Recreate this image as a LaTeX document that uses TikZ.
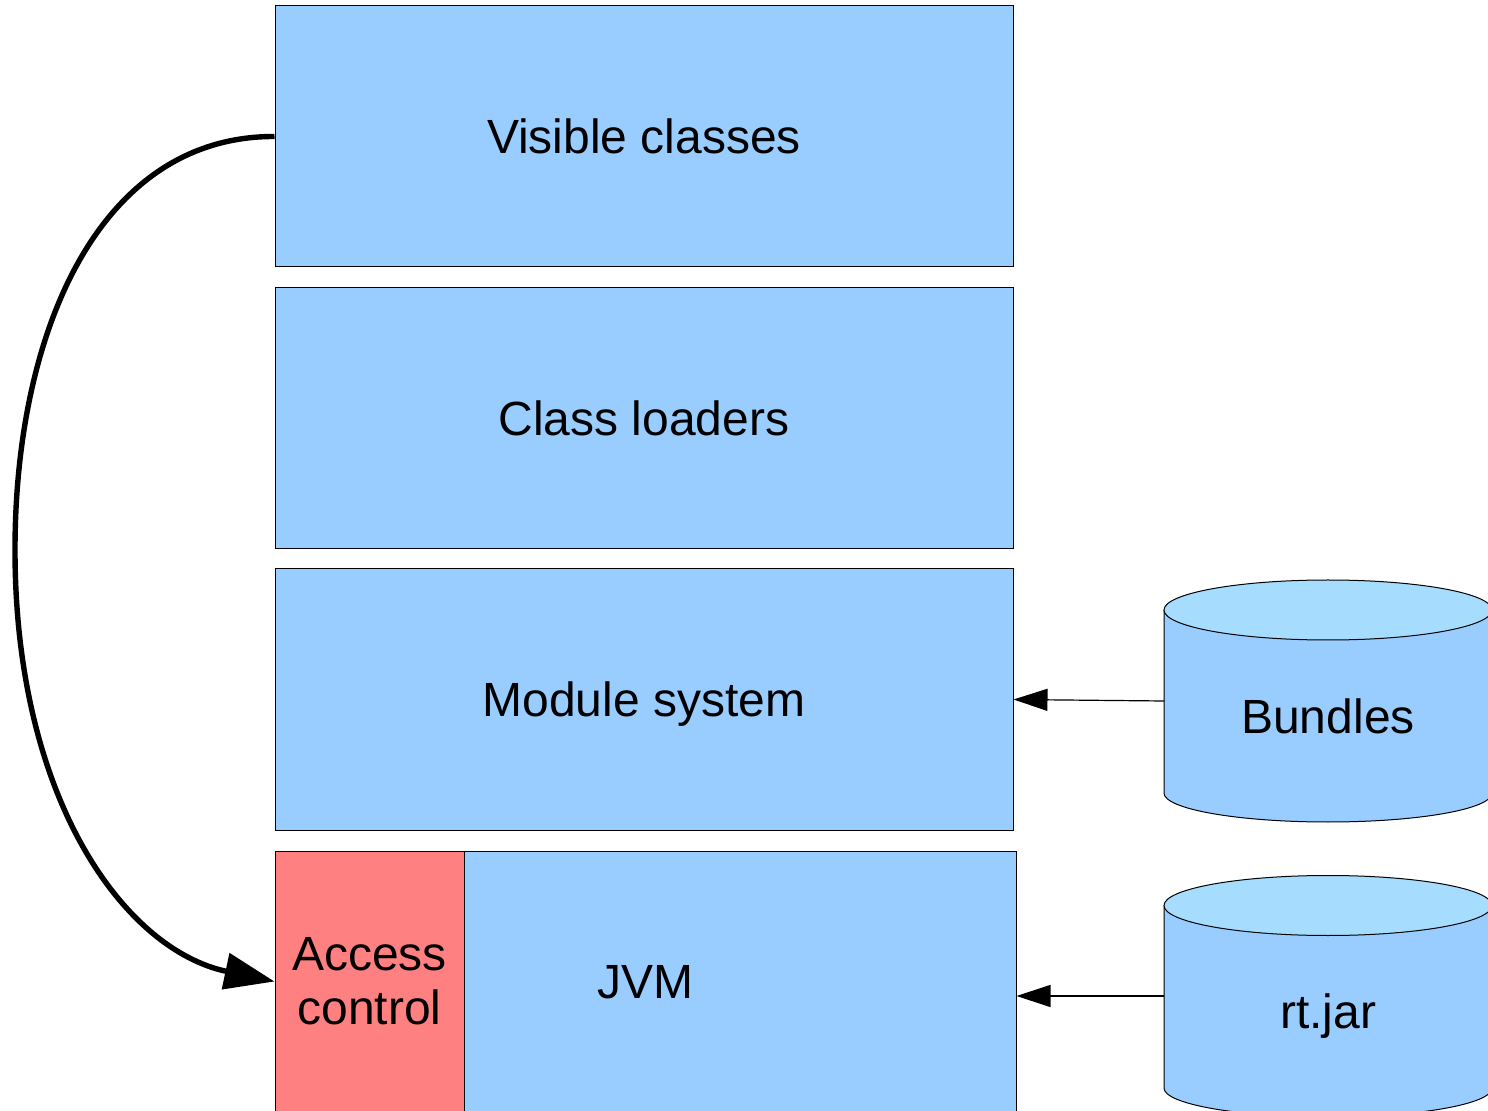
\documentclass[tikz,border=0pt]{standalone}
\usepackage{fontspec}
\setmainfont{Liberation Sans}
\usetikzlibrary{arrows.meta}
\definecolor{layerblue}{HTML}{99CCFF}
\definecolor{accessred}{HTML}{FF8080}
\definecolor{cyltop}{HTML}{A6DDFF}
\tikzset{
  layer/.style={draw=black, line width=0.5pt, fill=layerblue, minimum width=369pt, minimum height=130.5pt, inner sep=0pt, text depth=0pt, font=\fontsize{24}{27}\selectfont},
  accessbox/.style={draw=black, line width=0.5pt, fill=accessred, minimum width=94.5pt, minimum height=130.5pt, inner sep=0pt, align=center, font=\fontsize{24}{27}\selectfont},
  cyllabel/.style={inner sep=0pt, text depth=0pt, font=\fontsize{24}{27}\selectfont},
  cylline/.style={draw=black, line width=0.5pt},
  feed/.style={draw=black, line width=0.6pt, -{Triangle[length=17pt, width=11pt]}},
  bigarrow/.style={draw=black, line width=2.7pt, -{Triangle[length=25pt, width=18pt]}}
}
\begin{document}
\begin{tikzpicture}[x=0.5pt, y=-0.5pt]
  \useasboundingbox (0,0) rectangle (1488,1111);
  \clip (0,0) rectangle (1488,1111);

  % stacked layers
  \node[layer] (visible) at (644,136.5) {Visible classes};
  \node[layer] (loaders) at (644,418.5) {Class loaders};
  \node[layer] (module)  at (644,699.5) {Module system};
  \node[layer, minimum width=370.5pt] (jvm) at (645.5,981.5) {JVM};
  \node[accessbox] (access) at (369.5,981.5) {Access\\control};

  % Bundles cylinder
  \fill[layerblue] (1164,610) rectangle (1492,793);
  \fill[layerblue] (1328,793) ellipse (164 and 29);
  \draw[cylline] (1164,610) -- (1164,793) arc (180:0:164 and 29) -- (1492,610);
  \filldraw[cylline, fill=cyltop] (1328,610) ellipse (164 and 30);
  \node[cyllabel] (bundles) at (1328,716) {Bundles};
  \coordinate (bundles-w) at (1164,701);

  % rt.jar cylinder
  \fill[layerblue] (1164,905.5) rectangle (1492,1088);
  \fill[layerblue] (1328,1088) ellipse (164 and 29);
  \draw[cylline] (1164,905.5) -- (1164,1088) arc (180:0:164 and 29) -- (1492,905.5);
  \filldraw[cylline, fill=cyltop] (1328,905.5) ellipse (164 and 30);
  \node[cyllabel] (rtjar) at (1328,1011) {rt.jar};
  \coordinate (rtjar-w) at (1164,996);

  % connectors
  \draw[feed] (bundles-w) -- (module.east);
  \draw[feed] (rtjar-w) -- (rtjar-w -| jvm.east);
  \draw[bigarrow] (visible.west) .. controls (100,136) and (15,330) .. (15,550)
                  .. controls (15,800) and (125,950) .. (access.west);
\end{tikzpicture}
\end{document}
